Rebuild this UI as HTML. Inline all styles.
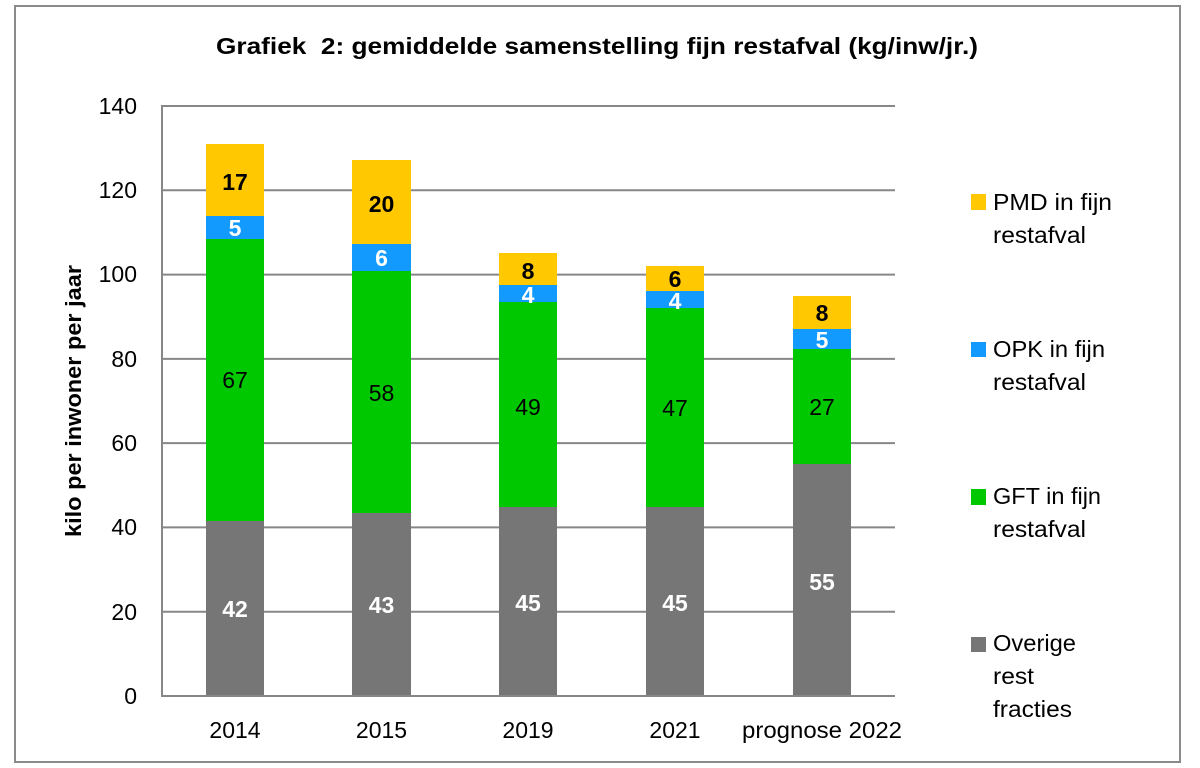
<!DOCTYPE html>
<html><head><meta charset="utf-8"><style>
html,body{margin:0;padding:0;background:#fff;width:1200px;height:768px;overflow:hidden}
svg{display:block}
text{font-family:"Liberation Sans",sans-serif;}
</style></head><body>
<svg width="1200" height="768" viewBox="0 0 1200 768" xmlns="http://www.w3.org/2000/svg">
<rect x="0" y="0" width="1200" height="768" fill="#fff"/>
<rect x="15" y="6" width="1165" height="756" fill="#fff" stroke="#8a8a8a" stroke-width="2"/>
<text x="597" y="54" text-anchor="middle" font-size="23" font-weight="bold" fill="#000" textLength="762" lengthAdjust="spacingAndGlyphs">Grafiek&#160; 2: gemiddelde samenstelling fijn restafval (kg/inw/jr.)</text>
<g stroke="#878787" stroke-width="2">
<line x1="162" y1="106" x2="895" y2="106"/>
<line x1="162" y1="190.3" x2="895" y2="190.3"/>
<line x1="162" y1="274.6" x2="895" y2="274.6"/>
<line x1="162" y1="358.9" x2="895" y2="358.9"/>
<line x1="162" y1="443.1" x2="895" y2="443.1"/>
<line x1="162" y1="527.4" x2="895" y2="527.4"/>
<line x1="162" y1="611.7" x2="895" y2="611.7"/>
<line x1="162" y1="105" x2="162" y2="697"/>
</g>
<g font-size="23" fill="#000" text-anchor="end">
<text x="137" y="114">140</text>
<text x="137" y="198">120</text>
<text x="137" y="282">100</text>
<text x="137" y="367">80</text>
<text x="137" y="451">60</text>
<text x="137" y="535">40</text>
<text x="137" y="620">20</text>
<text x="137" y="704">0</text>
</g>
<text transform="translate(81,401) rotate(-90)" text-anchor="middle" font-size="22" font-weight="bold" fill="#000" textLength="272" lengthAdjust="spacingAndGlyphs">kilo per inwoner per jaar</text>
<g>
<rect x="206" y="521" width="58" height="175" fill="#767676"/>
<rect x="206" y="239" width="58" height="282" fill="#00C800"/>
<rect x="206" y="216" width="58" height="23" fill="#129AFF"/>
<rect x="206" y="144" width="58" height="72" fill="#FFC800"/>

<rect x="352" y="513" width="59" height="183" fill="#767676"/>
<rect x="352" y="271" width="59" height="242" fill="#00C800"/>
<rect x="352" y="244" width="59" height="27" fill="#129AFF"/>
<rect x="352" y="160" width="59" height="84" fill="#FFC800"/>

<rect x="499" y="507" width="58" height="189" fill="#767676"/>
<rect x="499" y="302" width="58" height="205" fill="#00C800"/>
<rect x="499" y="285" width="58" height="17" fill="#129AFF"/>
<rect x="499" y="253" width="58" height="32" fill="#FFC800"/>

<rect x="646" y="507" width="58" height="189" fill="#767676"/>
<rect x="646" y="308" width="58" height="199" fill="#00C800"/>
<rect x="646" y="291" width="58" height="17" fill="#129AFF"/>
<rect x="646" y="266" width="58" height="25" fill="#FFC800"/>

<rect x="793" y="464" width="58" height="232" fill="#767676"/>
<rect x="793" y="349" width="58" height="115" fill="#00C800"/>
<rect x="793" y="329" width="58" height="20" fill="#129AFF"/>
<rect x="793" y="296" width="58" height="33" fill="#FFC800"/>
</g>
<line x1="162" y1="696" x2="895" y2="696" stroke="#878787" stroke-width="2"/>
<g font-size="23" text-anchor="middle">
<text x="235" y="617" fill="#fff" font-weight="bold">42</text>
<text x="235" y="388" fill="#000">67</text>
<text x="235" y="236" fill="#fff" font-weight="bold">5</text>
<text x="235" y="190" fill="#000" font-weight="bold">17</text>

<text x="381.5" y="613" fill="#fff" font-weight="bold">43</text>
<text x="381.5" y="401" fill="#000">58</text>
<text x="381.5" y="266" fill="#fff" font-weight="bold">6</text>
<text x="381.5" y="212" fill="#000" font-weight="bold">20</text>

<text x="528" y="611" fill="#fff" font-weight="bold">45</text>
<text x="528" y="415" fill="#000">49</text>
<text x="528" y="303" fill="#fff" font-weight="bold">4</text>
<text x="528" y="279" fill="#000" font-weight="bold">8</text>

<text x="675" y="611" fill="#fff" font-weight="bold">45</text>
<text x="675" y="416" fill="#000">47</text>
<text x="675" y="309" fill="#fff" font-weight="bold">4</text>
<text x="675" y="287" fill="#000" font-weight="bold">6</text>

<text x="822" y="590" fill="#fff" font-weight="bold">55</text>
<text x="822" y="415" fill="#000">27</text>
<text x="822" y="348" fill="#fff" font-weight="bold">5</text>
<text x="822" y="321" fill="#000" font-weight="bold">8</text>
</g>
<g font-size="23" fill="#000" text-anchor="middle">
<text x="235" y="738">2014</text>
<text x="381.5" y="738">2015</text>
<text x="528" y="738">2019</text>
<text x="675" y="738">2021</text>
<text x="822" y="738" textLength="160" lengthAdjust="spacingAndGlyphs">prognose 2022</text>
</g>
<rect x="971" y="194" width="15" height="16" fill="#FFC800"/>
<rect x="971" y="342" width="15" height="15" fill="#129AFF"/>
<rect x="971" y="489" width="15" height="16" fill="#00C800"/>
<rect x="971" y="637" width="15" height="15" fill="#767676"/>
<g font-size="23" fill="#000">
<text x="993" y="210" textLength="119" lengthAdjust="spacingAndGlyphs">PMD in fijn</text>
<text x="993" y="243" textLength="93" lengthAdjust="spacingAndGlyphs">restafval</text>
<text x="993" y="357" textLength="112" lengthAdjust="spacingAndGlyphs">OPK in fijn</text>
<text x="993" y="390" textLength="93" lengthAdjust="spacingAndGlyphs">restafval</text>
<text x="993" y="504" textLength="108" lengthAdjust="spacingAndGlyphs">GFT in fijn</text>
<text x="993" y="537" textLength="93" lengthAdjust="spacingAndGlyphs">restafval</text>
<text x="993" y="651" textLength="83" lengthAdjust="spacingAndGlyphs">Overige</text>
<text x="993" y="684" textLength="41" lengthAdjust="spacingAndGlyphs">rest</text>
<text x="993" y="717" textLength="79" lengthAdjust="spacingAndGlyphs">fracties</text>
</g>
</svg>
</body></html>
